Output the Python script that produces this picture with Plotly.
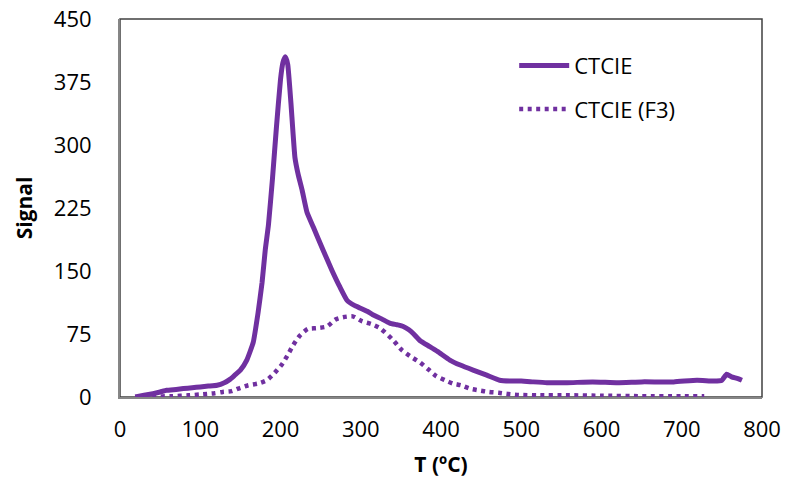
import plotly.graph_objects as go

# CTCIE (solid) — temperature (ºC) and signal
t_ctcie = [19, 30, 41, 50, 58, 70, 79, 90, 100, 110, 121, 130, 137, 143, 150, 158, 166, 172, 177, 181,
           185, 190, 195, 200, 203, 206, 209, 213, 218, 222, 227, 233, 241, 253, 264, 274, 283, 292, 299, 308,
           315, 326, 336, 345, 353, 360, 366, 374, 386, 396, 411, 424, 440, 457, 473, 486, 500, 515, 532,
           557, 589, 620, 650, 690, 719, 740, 750, 756, 762, 770, 775]
s_ctcie = [0, 2, 4, 6, 8, 9, 10, 11, 12, 13, 14, 17, 21, 26, 32, 44, 65, 100, 136, 175,
           205, 260, 322, 378, 398, 405, 396, 350, 285, 265, 246, 220, 202, 175, 151, 131, 115, 109, 106, 102,
           98, 93, 88, 86, 84, 80, 75, 67, 60, 54, 44, 38, 32, 26, 20, 19, 19, 18, 17,
           17, 18, 17, 18, 18, 20, 19, 20, 27, 24, 22, 20]

# CTCIE (F3) — dotted
t_f3 = [19, 40, 65, 85, 100, 118, 128, 139, 150, 160, 172, 183, 193, 202, 209, 216, 224, 234, 245,
        258, 268, 278, 290, 302, 313, 324, 340, 351, 364, 374, 384, 394, 405, 415, 425, 436, 447,
        460, 472, 484, 497, 520, 560, 600, 650, 700, 728]
s_f3 = [0, 0.5, 1, 2, 3, 4.5, 6, 7, 11, 14, 16, 20, 29, 39, 50, 62, 73, 81, 82,
        84, 92, 95, 96, 90, 87, 82, 68, 56, 47, 41, 33, 25, 20, 16, 14, 10, 8,
        6, 5, 3.5, 2.5, 2, 2, 1.5, 1, 1, 1]

x_ticks = [0, 100, 200, 300, 400, 500, 600, 700, 800]
y_ticks = [0, 75, 150, 225, 300, 375, 450]

PURPLE = "#7030A0"
FONT = "Open Sans"

fig = go.Figure()
fig.add_trace(go.Scatter(x=t_ctcie, y=s_ctcie, mode="lines", name="CTCIE",
                         legendgroup="a",
                         line=dict(color=PURPLE, width=5, shape="spline", smoothing=0.4)))
fig.add_trace(go.Scatter(x=t_f3, y=s_f3, mode="lines", name="CTCIE (F3)",
                         legendgroup="b",
                         line=dict(color=PURPLE, width=4.5, dash="4px,4.5px", shape="spline", smoothing=0.6)))

fig.add_shape(type="rect", xref="paper", yref="paper", x0=0, y0=0, x1=1, y1=1,
              line=dict(color="#404040", width=1.5), layer="below")

fig.update_layout(
    width=786, height=488,
    margin=dict(l=120, r=24, t=19, b=91, autoexpand=False),
    paper_bgcolor="white", plot_bgcolor="white",
    font=dict(family=FONT, size=22, color="black"),
    showlegend=True,
    legend=dict(x=0.614, y=0.932, xanchor="left", yanchor="top",
                bgcolor="rgba(0,0,0,0)", font=dict(family=FONT, size=22),
                traceorder="grouped", tracegroupgap=12, itemwidth=50),
    xaxis=dict(range=[0, 800], tickvals=x_ticks, ticktext=[str(v) for v in x_ticks],
               showgrid=False, zeroline=False, showline=True, linecolor="#868686", linewidth=2,
               ticks="outside", ticklen=12, tickcolor="rgba(0,0,0,0)", automargin=False,
               ticklabeloverflow="allow",
               tickfont=dict(family=FONT, size=22),
               title=dict(text="<b>T (ºC)</b>", font=dict(family=FONT, size=21))),
    yaxis=dict(range=[0, 450], tickvals=y_ticks, ticktext=[str(v) for v in y_ticks],
               showgrid=False, zeroline=False, showline=True, linecolor="#868686", linewidth=2,
               ticks="outside", ticklen=22, tickcolor="rgba(0,0,0,0)", automargin=False,
               ticklabeloverflow="allow",
               tickfont=dict(family=FONT, size=22),
               title=dict(text="<b>Signal</b>", font=dict(family=FONT, size=21))),
)

fig.write_html("out.html", config={"displayModeBar": False},
               post_script="document.body.style.margin='0';document.body.style.overflow='hidden';")
